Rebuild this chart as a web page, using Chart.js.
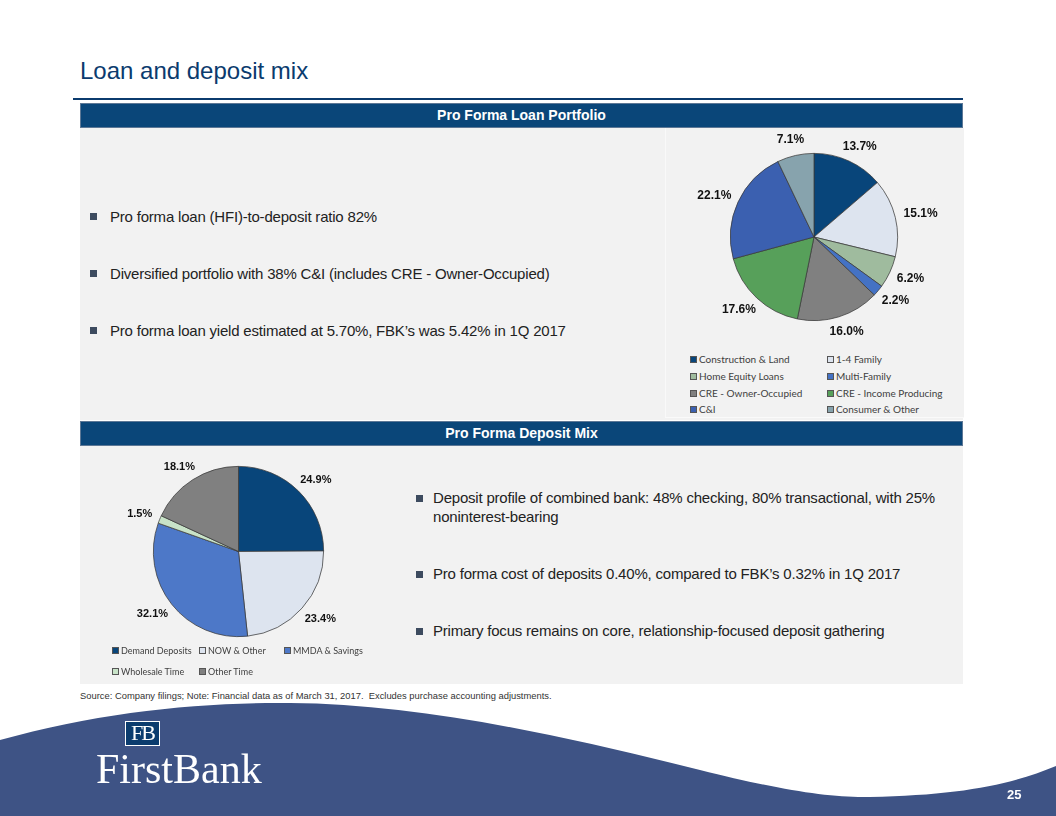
<!DOCTYPE html>
<html><head><meta charset="utf-8">
<script src="https://cdn.jsdelivr.net/npm/chart.js@4.4.0/dist/chart.umd.min.js"></script>
<style>
body{margin:0;width:1056px;height:816px;position:relative;background:#fff;font-family:"Liberation Sans",Arial,sans-serif;overflow:hidden}
.abs{position:absolute}
.title{left:80px;top:57px;font-size:24px;color:#0b3b6e;white-space:nowrap}
.rule{left:73px;top:98px;width:890px;height:2px;background:#0b3b6e}
.hdr{left:80px;width:881px;height:23px;background:#0a4679;border:1px solid #5d7896;color:#fff;font-weight:bold;font-size:14px;text-align:center;line-height:23px}
.panel{background:#f2f2f2}
.bul{font-size:15px;color:#222;letter-spacing:-0.2px;white-space:nowrap;line-height:19px}
.sq{width:7px;height:7px;background:#3d4b5f}
.leg{font-family:Lato,"Noto Sans",sans-serif;color:#404040;white-space:nowrap;line-height:12px}
.leg i{display:inline-block;width:7px;height:7px;border:0.5px solid #555;box-sizing:border-box;margin-right:2px;vertical-align:0px}
.src{left:80px;top:690px;font-size:9.4px;color:#333;white-space:nowrap}
</style></head><body>
<div class="abs title">Loan and deposit mix</div>
<div class="abs rule"></div>

<div class="abs hdr" style="top:103px">Pro Forma Loan Portfolio</div>
<div class="abs panel" style="left:80px;top:128px;width:883px;height:292px"></div>
<div class="abs panel" style="left:665px;top:128px;width:298px;height:289px;border-left:1px solid #f9f9f9;border-bottom:1px solid #fafafa"></div>

<div class="abs sq" style="left:90px;top:213px"></div>
<div class="abs bul" style="left:110px;top:207px">Pro forma loan (HFI)-to-deposit ratio 82%</div>
<div class="abs sq" style="left:90px;top:270px"></div>
<div class="abs bul" style="left:110px;top:264px">Diversified portfolio with 38% C&amp;I (includes CRE - Owner-Occupied)</div>
<div class="abs sq" style="left:90px;top:327px"></div>
<div class="abs bul" style="left:110px;top:321px">Pro forma loan yield estimated at 5.70%, FBK’s was 5.42% in 1Q 2017</div>

<canvas id="loanChart" class="abs" style="left:665px;top:128px" width="298" height="218"></canvas>
<div id="loanLegend"></div>

<div class="abs hdr" style="top:421px">Pro Forma Deposit Mix</div>
<div class="abs panel" style="left:80px;top:446px;width:883px;height:238px"></div>

<canvas id="depChart" class="abs" style="left:100px;top:452px" width="277" height="200"></canvas>
<div id="depLegend"></div>

<div class="abs sq" style="left:416px;top:495px"></div>
<div class="abs bul" style="left:433px;top:488px">Deposit profile of combined bank: 48% checking, 80% transactional, with 25%<br>noninterest-bearing</div>
<div class="abs sq" style="left:416px;top:571px"></div>
<div class="abs bul" style="left:433px;top:564px">Pro forma cost of deposits 0.40%, compared to FBK’s 0.32% in 1Q 2017</div>
<div class="abs sq" style="left:416px;top:628px"></div>
<div class="abs bul" style="left:433px;top:621px">Primary focus remains on core, relationship-focused deposit gathering</div>

<div class="abs src">Source: Company filings; Note: Financial data as of March 31, 2017.&nbsp; Excludes purchase accounting adjustments.</div>

<svg class="abs" style="left:0;top:0" width="1056" height="816">
<path d="M0,740 C100,712 200,702 290,703 C420,704 560,735 700,770 C780,790 830,798 870,797 C960,795 1010,785 1056,766 L1056,816 L0,816 Z" fill="#3e5385"/>
</svg>
<div class="abs" style="left:125px;top:721px;width:35px;height:25px;box-sizing:border-box;background:#0b3c6e;border:1.5px solid #fff;color:#fff;font-family:'Liberation Serif','DejaVu Serif',serif;font-size:22px;line-height:22px;text-align:center;letter-spacing:-2px">FB</div>
<div class="abs" style="left:96px;top:757px;color:#fff;font-family:'Liberation Serif','DejaVu Serif',serif;font-size:42px;line-height:24px;letter-spacing:0px">FirstBank</div>
<div class="abs" style="left:1007px;top:787px;color:#fff;font-weight:bold;font-size:13px">25</div>

<script>
// ---- Data ----
const loanLabels = ['Construction & Land','1-4 Family','Home Equity Loans','Multi-Family','CRE - Owner-Occupied','CRE - Income Producing','C&I','Consumer & Other'];
const loanValues = [13.7, 15.1, 6.2, 2.2, 16.0, 17.6, 22.1, 7.1];
const loanColors = ['#08457a','#dde4ef','#9fbb9e','#4472c4','#808080','#57a05a','#3b60b0','#87a3ad'];

const depLabels = ['Demand Deposits','NOW & Other','MMDA & Savings','Wholesale Time','Other Time'];
const depValues = [24.9, 23.4, 32.1, 1.5, 18.1];
const depColors = ['#08457a','#dde4ef','#4d78c8','#c8e3c8','#808080'];

// ---- Outside-end label plugin ----
const outsideLabels = {
  id: 'outsideLabels',
  afterDatasetsDraw(chart, args, opts) {
    const ctx = chart.ctx;
    const meta = chart.getDatasetMeta(0);
    const data = chart.data.datasets[0].data;
    ctx.save();
    ctx.font = 'bold ' + opts.size + 'px "Liberation Sans", Arial, sans-serif';
    ctx.fillStyle = '#111';
    ctx.textAlign = 'center';
    ctx.textBaseline = 'middle';
    meta.data.forEach((arc, i) => {
      const mid = (arc.startAngle + arc.endAngle) / 2;
      const R = arc.outerRadius + opts.offset;
      const ax = arc.x + Math.cos(mid) * R;
      const ay = arc.y + Math.sin(mid) * R;
      const txt = data[i].toFixed(1) + '%';
      const w = ctx.measureText(txt).width;
      const h = opts.size + 2;
      const cx = ax + Math.cos(mid) * w / 2;
      const cy = ay + Math.sin(mid) * h / 2;
      ctx.fillText(txt, cx, cy);
    });
    ctx.restore();
  }
};

function makePie(id, labels, values, colors, pad, size) {
  return new Chart(document.getElementById(id), {
    type: 'pie',
    data: { labels, datasets: [{ data: values, backgroundColor: colors, borderColor: '#3a3a3a', borderWidth: 0.75, hoverOffset: 0 }] },
    options: {
      responsive: false, animation: false,
      layout: { padding: pad },
      plugins: { legend: { display: false }, tooltip: { enabled: false }, outsideLabels: { size: size, offset: 9 } }
    },
    plugins: [outsideLabels]
  });
}
makePie('loanChart', loanLabels, loanValues, loanColors, { top: 25, bottom: 25, left: 0, right: 0 }, 12);
makePie('depChart', depLabels, depValues, depColors, { top: 14, bottom: 15, left: 0, right: 0 }, 11);

// ---- HTML legends ----
function legend(hostId, labels, colors, cols, rows, fontPx) {
  const host = document.getElementById(hostId);
  labels.forEach((l, i) => {
    const d = document.createElement('div');
    d.className = 'abs leg';
    d.style.fontSize = fontPx + 'px';
    const c = i % cols.length, r = Math.floor(i / cols.length);
    d.style.left = cols[c] + 'px';
    d.style.top = (rows[r] - 6) + 'px';
    const sw = document.createElement('i');
    sw.style.background = colors[i];
    d.appendChild(sw);
    d.appendChild(document.createTextNode(l));
    host.appendChild(d);
  });
}
legend('loanLegend', loanLabels, loanColors, [690, 827], [359, 376, 393, 409], 10);
legend('depLegend', depLabels, depColors, [112, 199, 284], [651, 672], 9);
</script>
</body></html>
